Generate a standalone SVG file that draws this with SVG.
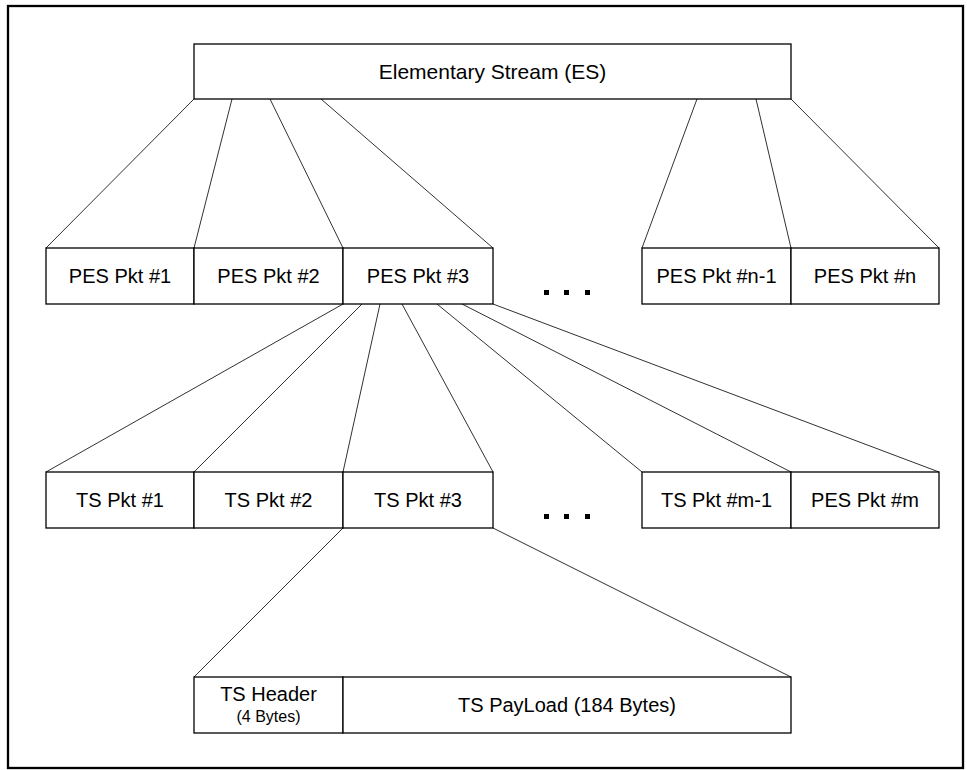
<svg xmlns="http://www.w3.org/2000/svg" width="967" height="770" viewBox="0 0 967 770">
<style>
.box{fill:#fff;stroke:#000;stroke-width:1.3}
.t{font-family:"Liberation Sans",Arial,sans-serif;font-size:20px;fill:#000;text-anchor:middle}
.big{font-size:21px}
.small{font-size:16px}
.c{stroke:#1a1a1a;stroke-width:0.9;fill:none}
.dot{fill:#000}
</style>
<rect x="0" y="0" width="967" height="770" fill="#fff"/>
<rect id="frame" x="8" y="6" width="955" height="762" fill="none" stroke="#000" stroke-width="2.3"/>
<g id="connectors">
<line class="c" x1="194" y1="99" x2="46" y2="248"/>
<line class="c" x1="232" y1="99" x2="194" y2="248"/>
<line class="c" x1="270" y1="99" x2="343" y2="248"/>
<line class="c" x1="321" y1="99" x2="493" y2="248"/>
<line class="c" x1="697" y1="99" x2="642" y2="248"/>
<line class="c" x1="756" y1="99" x2="791" y2="248"/>
<line class="c" x1="791" y1="99" x2="939" y2="248"/>
<line class="c" x1="343" y1="304" x2="46" y2="472"/>
<line class="c" x1="362" y1="304" x2="194" y2="472"/>
<line class="c" x1="380" y1="304" x2="343" y2="472"/>
<line class="c" x1="402" y1="304" x2="493" y2="472"/>
<line class="c" x1="437" y1="304" x2="642" y2="472"/>
<line class="c" x1="462" y1="304" x2="791" y2="472"/>
<line class="c" x1="493" y1="304" x2="939" y2="472"/>
<line class="c" x1="343" y1="528" x2="194" y2="677"/>
<line class="c" x1="493" y1="528" x2="791" y2="677"/>
</g>
<g id="es"><rect class="box" x="194" y="44" width="597" height="55"/><text class="t big" x="492.5" y="79">Elementary Stream (ES)</text></g>
<g id="pes1"><rect class="box" x="46" y="248" width="148" height="56"/><text class="t" x="120" y="283">PES Pkt #1</text></g>
<g id="pes2"><rect class="box" x="194" y="248" width="149" height="56"/><text class="t" x="268.5" y="283">PES Pkt #2</text></g>
<g id="pes3"><rect class="box" x="343" y="248" width="150" height="56"/><text class="t" x="418" y="283">PES Pkt #3</text></g>
<g id="pesdots"><rect class="dot" x="544" y="290" width="5" height="5"/><rect class="dot" x="564" y="290" width="5" height="5"/><rect class="dot" x="585" y="290" width="5" height="5"/></g>
<g id="pesn1"><rect class="box" x="642" y="248" width="149" height="56"/><text class="t" x="716.5" y="283">PES Pkt #n-1</text></g>
<g id="pesn"><rect class="box" x="791" y="248" width="148" height="56"/><text class="t" x="865" y="283">PES Pkt #n</text></g>
<g id="ts1"><rect class="box" x="46" y="472" width="148" height="56"/><text class="t" x="120" y="507">TS Pkt #1</text></g>
<g id="ts2"><rect class="box" x="194" y="472" width="149" height="56"/><text class="t" x="268.5" y="507">TS Pkt #2</text></g>
<g id="ts3"><rect class="box" x="343" y="472" width="150" height="56"/><text class="t" x="418" y="507">TS Pkt #3</text></g>
<g id="tsdots"><rect class="dot" x="544" y="514" width="5" height="5"/><rect class="dot" x="564" y="514" width="5" height="5"/><rect class="dot" x="585" y="514" width="5" height="5"/></g>
<g id="tsm1"><rect class="box" x="642" y="472" width="149" height="56"/><text class="t" x="716.5" y="507">TS Pkt #m-1</text></g>
<g id="pesm"><rect class="box" x="791" y="472" width="148" height="56"/><text class="t" x="865" y="507">PES Pkt #m</text></g>
<g id="tsheader"><rect class="box" x="194" y="677" width="149" height="56"/><text class="t" x="268.5" y="701">TS Header</text><text class="t small" x="268.5" y="722">(4 Bytes)</text></g>
<g id="tspayload"><rect class="box" x="343" y="677" width="448" height="56"/><text class="t" x="567" y="712">TS PayLoad (184 Bytes)</text></g>
</svg>
